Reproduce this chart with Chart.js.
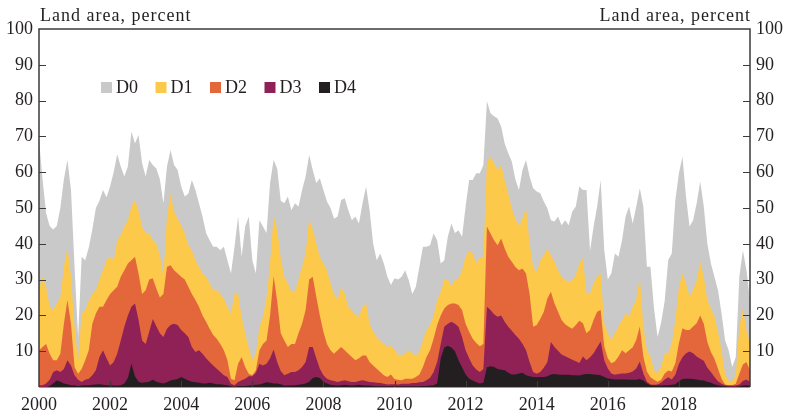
<!DOCTYPE html>
<html>
<head>
<meta charset="utf-8">
<script src="https://cdn.jsdelivr.net/npm/chart.js@4.4.1/dist/chart.umd.min.js"></script>
<style>
  html, body { margin: 0; padding: 0; background: #fff; }
  #wrap { width: 788px; height: 417px; }
</style>
</head>
<body>
<div id="wrap"><canvas id="grafico" width="788" height="417"></canvas></div>
<script>
// percent of land area in each category or worse, sampled every 0.1 year from 2000 to 2020
var d0 = [69, 58, 48.5, 45, 44, 45, 50, 58, 63.4, 55, 33.6, 14, 36.4, 35.4, 39, 44, 50, 52, 55, 53, 56, 60, 65, 61.6, 58.8, 61.6, 71.4, 68, 70.4, 62.5, 58.8, 63.4, 62, 61, 58,
  51.3, 61.6, 66.2, 62, 60.6, 56, 53.2, 54, 57.8, 55, 51.3, 47.6, 43, 41, 39.2, 39.2, 38.2, 39.2, 35.4, 31.7, 39.2, 47.6, 36.4, 44.8, 47.6, 35.4, 31.7, 46.6, 44.8, 43, 57, 63.4, 61, 52,
  51.3, 53.2, 49.4, 51.3, 50.4, 55, 58.8, 64.8, 60.6, 57, 58.3, 55, 51.8, 50, 47, 47.6, 52.2, 52.7, 49.4, 46.6, 47.6, 45.7, 51.3, 56, 49.4, 40, 35.4, 37.3, 34.5, 30.8, 28.5, 30.4, 30,
  30.8, 32.6, 29.9, 26, 28, 33.6, 39.2, 39.2, 39.6, 42.9, 41, 34.5, 35.4, 42, 45.7, 43, 43.8, 42, 50.4, 57.8, 57.8, 59.7, 59.7, 62, 79.8, 76.5, 75.6, 75, 72.8, 68, 65.3, 63, 58, 55,
  60.6, 63.4, 58.8, 55.5, 54.6, 54.1, 51.8, 49.9, 46.6, 46.2, 47.6, 45.2, 46.6, 45.2, 49, 50.4, 56,
  55, 55, 38, 44.8, 50.4, 57.8, 38.3, 30, 31.8, 37.3, 36.4, 41, 47.6, 50.4, 45.7, 50.4, 55.5, 50.4, 33.6, 33.6, 22, 14, 18, 24, 35.5, 37.3, 52.2, 59.7, 64.3, 53.2, 44.8, 46.6, 51.3,
  57.4, 50.4, 40.1, 34.5, 30.8, 27, 20.5, 13, 10.3, 5.6, 8.4, 30.8, 38.2, 32.6, 24.3];

var d1 = [27, 31, 28, 22.4, 21.5, 23.3, 25, 33.6, 39, 30.8, 16.8, 7.5, 20.5, 21.5, 24, 26, 27, 30, 32.6, 35.4, 36.4, 35.4, 41, 42.4, 44.8, 46.6, 50.4, 52.2, 49.4, 44.8, 43, 43, 41, 40, 37,
  30.8, 47.6, 54, 49, 47, 45.2, 43, 39.6, 38.2, 35.4, 33.6, 31.7, 30.8, 29, 27, 27, 26, 24.7, 22.4, 20.5, 26, 26, 19.6, 15, 11.2, 7.5, 9.3, 16.8, 19.6, 25, 34.5, 48, 44, 36,
  30.8, 29, 26.6, 26.6, 30, 33.6, 37.3, 47, 44, 40, 36.4, 34.5, 32.6, 29, 26, 24.3, 28, 26, 22.4, 21.5, 20, 19.6, 22.4, 23.3, 17.7, 15.4, 14, 13, 12, 11.2, 11.5, 10.5, 9,
  8.9, 9.3, 10.3, 9.3, 8.9, 9.8, 13, 15.9, 17.3, 20, 24.3, 26.6, 30, 30, 28, 30, 30.3, 32.6, 36.4, 38.2, 37.3, 34.5, 36.4, 36, 63, 64.4, 62.5, 60.6, 62, 57.8, 54, 50, 47, 45,
  47.1, 49.9, 40.1, 33.6, 32.2, 35.4, 36.8, 38.7, 36.8, 35, 32.6, 30.8, 29.9, 29.4, 29.9, 31.3, 34.5,
  36, 26.2, 26.2, 29, 30.8, 31.8, 17.8, 15, 13.1, 15, 16.9, 18.7, 20.6, 19.6, 22.4, 24.3, 30.8, 16.9, 10.3, 8.5, 4.7, 3.8, 5.7, 9.4, 9.4, 12.2, 18.7, 28, 31.8, 29, 25.2, 27.1, 29.9,
  35, 30.8, 24.3, 21.9, 19.6, 15.4, 10.3, 3.7, 1.6, 1.7, 3.3, 16.8, 21.9, 15.9, 12.1];

var d2 = [10.3, 11.2, 12, 9.3, 7.5, 7.5, 9.3, 17.7, 24.3, 17.7, 5.6, 3.7, 5, 7.5, 10.3, 17.7, 20.5, 22.4, 22.4, 24.3, 26, 27, 28, 30.8, 32.6, 34.5, 35.4, 36.4, 31.7, 26, 27, 30, 30.4, 27.5, 25,
  26, 33.6, 34, 32.6, 31.7, 30.8, 30, 28, 26, 24.3, 22.4, 20, 18.2, 16.3, 14.5, 13.5, 12, 10.3, 7.5, 2.3, 1.9, 6.5, 8.4, 5.6, 3.7, 3.3, 4.7, 10.3, 12, 13, 20, 31, 24, 15,
  13, 11.2, 12, 12, 15, 17.7, 21.5, 30, 30.8, 25.2, 20, 15.4, 12, 10.3, 9.3, 10.3, 11.2, 10.3, 9.3, 8.4, 7.5, 8, 8.8, 8.8, 7, 6, 5.1, 4.2, 3.3, 2.8, 3.5, 2.2, 2,
  1.9, 2.3, 2.3, 2.3, 2.8, 3.5, 5.6, 8.4, 10.3, 13.5, 17.3, 20, 21.9, 22.9, 23.3, 23.3, 22.9, 21.5, 17.7, 15.4, 13.5, 12.3, 11.4, 12, 44.8, 42.9, 41, 39.6, 41.5, 38.7, 36.4, 35, 33.5, 32.6,
  33.1, 31.7, 26, 16.8, 17.3, 19, 21, 24.7, 26.6, 23.3, 21, 18.7, 17.5, 16.8, 16.3, 17.3, 18.5,
  17.8, 15, 15.9, 18.7, 21, 21.5, 11.3, 8, 6.6, 7.1, 8.5, 10.3, 9.4, 10.3, 11.1, 13.1, 16.9, 8.5, 4.3, 2.7, 2, 1.5, 2, 3.8, 4.6, 4.3, 6.6, 12.2, 16.4, 15.9, 15.9, 16.9, 17.8,
  20, 17.7, 12.6, 9.8, 7.9, 5.1, 2.3, 0.7, 0.5, 0.5, 0.9, 3.7, 6.3, 7, 4.7];

var d3 = [0.5, 0.5, 1, 2, 4.2, 4.7, 4.2, 5, 7.5, 6, 3.3, 2, 1.4, 2, 2.3, 3.3, 4.7, 8.4, 10.3, 8, 6, 7, 9.3, 13, 16.8, 20, 22.4, 23.3, 18.7, 13, 12, 15.4, 19, 17, 15,
  14, 16.3, 17.3, 17.7, 17.3, 15.9, 15, 14, 11.2, 9.8, 10.3, 9.3, 8, 7, 6, 5.1, 4.2, 3.3, 2.8, 0.9, 0.5, 1.4, 1.9, 2.3, 3, 3, 4, 6.5, 6, 6.5, 8, 10.5, 7, 4.5,
  3.3, 3.7, 4.2, 4.2, 4.7, 5.6, 7, 11.2, 11.2, 8, 5.1, 3.3, 2.3, 1.9, 1.7, 1.4, 1.7, 1.9, 1.6, 1.4, 1.4, 1.7, 1.9, 1.7, 1.4, 1.3, 1.2, 1.1, 0.9, 0.7, 0.8, 0.8, 0.7,
  0.9, 0.9, 0.9, 1.1, 1.1, 1.3, 1.4, 1.9, 2.6, 4.2, 7, 12, 16.8, 17.7, 18.2, 17.7, 16.8, 14, 10.3, 8, 6, 4.9, 4.2, 5, 22.4, 21.5, 20.3, 19.6, 20, 18.2, 16.8, 15.7, 14.5, 13.5,
  12.1, 10.3, 7, 4.2, 3.7, 4.2, 5.4, 7, 12.6, 11.2, 10.1, 9.1, 8.6, 8.1, 7.6, 7.2, 6.7,
  8.5, 7.5, 8.3, 9.4, 11.1, 12.7, 7.5, 5.2, 3.8, 3.4, 3.6, 3.8, 3.8, 4, 4.3, 5.2, 7.1, 3.8, 1.5, 0.7, 0.6, 0.7, 1.2, 2.1, 2.7, 2.1, 3.4, 6.4, 8.3, 9.4, 9.9, 9.4, 8.5,
  7.9, 7.3, 5.4, 4.2, 2.8, 1.6, 0.9, 0.5, 0.4, 0.4, 0.4, 0.7, 1.7, 2.1, 1.4];

var d4 = [0, 0, 0, 0.3, 1, 1.8, 1.5, 1, 0.8, 0.5, 0.5, 0.3, 0.4, 0.5, 0.5, 0.6, 0.7, 0.8, 0.6, 0.5, 0.5, 0.4, 0.4, 0.5, 1, 2.5, 6.5, 3, 1.5, 1.2, 1.3, 1.5, 2, 1.5, 1.2,
  1, 1.3, 1.8, 2, 2.2, 2.8, 2.3, 1.8, 1.5, 1.3, 1.2, 1, 1, 1.2, 1, 0.8, 0.8, 0.6, 0.5, 0.2, 0.1, 0.3, 0.3, 0.3, 0.4, 0.5, 0.6, 0.7, 1, 1.3, 1.2, 1, 1, 0.8,
  0.4, 0.4, 0.5, 0.5, 0.6, 0.8, 1, 1.5, 2.5, 2.8, 2.5, 1.5, 1, 0.6, 0.5, 0.4, 0.5, 0.6, 0.5, 0.4, 0.5, 0.6, 0.5, 0.4, 0.4, 0.3, 0.2, 0.2, 0.2, 0.2, 0.2, 0.2, 0.2,
  0.2, 0.2, 0.2, 0.2, 0.2, 0.2, 0.3, 0.3, 0.4, 0.5, 1, 8, 11, 11.5, 11, 10, 7.5, 5.5, 3.5, 2.3, 1.8, 1.3, 1, 1.2, 5.5, 5.8, 5.6, 5, 4.8, 4.7, 4, 3.5, 3.5, 3.8,
  4, 3.3, 3, 2.8, 2.7, 2.8, 2.8, 3, 3.5, 3.6, 3.5, 3.4, 3.4, 3.4, 3.3, 3.3, 3.2,
  3.5, 3.6, 3.6, 3.5, 3.4, 3.3, 2.8, 2.4, 2.2, 2.1, 2.1, 2.1, 2.1, 2, 2, 2, 2.2, 1.8, 1, 0.5, 0.4, 0.4, 0.4, 0.5, 0.5, 0.6, 0.8, 1.6, 2.2, 2.3, 2.3, 2.2, 2.1,
  1.9, 1.8, 1.5, 1.2, 0.8, 0.5, 0.3, 0.2, 0.1, 0.1, 0.1, 0.2, 0.4, 0.5, 0.4];

var categorias = ["D0", "D1", "D2", "D3", "D4"];
var cores = ["#c9c9c9", "#fdc94b", "#e4673b", "#8f2157", "#231f20"];
var anosTicks = [2000, 2002, 2004, 2006, 2008, 2010, 2012, 2014, 2016, 2018];
var tituloEixo = "Land area, percent";

var anos = [];
for (var i = 0; i < d0.length; i++) {
    anos.push(2000 + i / 10);
}

var fonte = "'Liberation Serif', 'Times New Roman', serif";
var corTexto = "#231f20";

function montarSerie(valores) {
    var pontos = [];
    for (var i = 0; i < valores.length; i++) {
        pontos.push({ x: anos[i], y: valores[i] });
    }
    return pontos;
}

var series = [d0, d1, d2, d3, d4];
var datasets = [];
for (var k = 0; k < series.length; k++) {
    datasets.push({
        label: categorias[k],
        data: montarSerie(series[k]),
        backgroundColor: cores[k],
        borderWidth: 0,
        pointRadius: 0,
        fill: "origin",
        tension: 0,
        order: series.length - k // D0 ao fundo
    });
}

// moldura, marcas dos eixos, titulos e legenda
var extras = {
    id: "extras",
    afterDraw: function (chart) {
        var ctx = chart.ctx;
        var area = chart.chartArea;
        var x = chart.scales.x;
        var y = chart.scales.y;
        ctx.save();

        ctx.strokeStyle = "#3b3b3b";
        ctx.lineWidth = 1.2;
        for (var v = 10; v <= 90; v += 10) {
            var py = Math.round(y.getPixelForValue(v)) + 0.5;
            ctx.beginPath();
            ctx.moveTo(area.left, py);
            ctx.lineTo(area.left + 7, py);
            ctx.moveTo(area.right, py);
            ctx.lineTo(area.right - 7, py);
            ctx.stroke();
        }
        for (var t = 1; t < anosTicks.length; t++) {
            var px = Math.round(x.getPixelForValue(anosTicks[t])) + 0.5;
            ctx.beginPath();
            ctx.moveTo(px, area.bottom);
            ctx.lineTo(px, area.bottom - 6);
            ctx.stroke();
        }

        ctx.lineWidth = 1.5;
        ctx.beginPath();
        ctx.moveTo(area.left, area.bottom);
        ctx.lineTo(area.left, area.top);
        ctx.lineTo(area.right, area.top);
        ctx.lineTo(area.right, area.bottom);
        ctx.stroke();
        ctx.strokeStyle = "#9a9a9a";
        ctx.lineWidth = 1;
        ctx.beginPath();
        ctx.moveTo(area.left, area.bottom + 0.5);
        ctx.lineTo(area.right, area.bottom + 0.5);
        ctx.stroke();

        ctx.fillStyle = corTexto;
        ctx.font = "18px " + fonte;
        ctx.letterSpacing = "1px";
        ctx.textBaseline = "alphabetic";
        ctx.textAlign = "left";
        ctx.fillText(tituloEixo, area.left + 1, 21);
        ctx.textAlign = "right";
        ctx.fillText(tituloEixo, area.right + 1, 21);
        ctx.letterSpacing = "0px";

        ctx.font = "18px " + fonte;
        ctx.textAlign = "left";
        ctx.textBaseline = "middle";
        for (var j = 0; j < categorias.length; j++) {
            var lx = 101 + j * 54.5;
            ctx.fillStyle = cores[j];
            ctx.fillRect(lx, 82, 11, 11);
            ctx.fillStyle = corTexto;
            ctx.fillText(categorias[j], lx + 15, 88.5);
        }
        ctx.restore();
    }
};

function rotuloY(valor) {
    return valor === 0 ? "" : String(valor);
}

new Chart(document.getElementById("grafico").getContext("2d"), {
    type: "line",
    data: { datasets: datasets },
    plugins: [extras],
    options: {
        responsive: false,
        devicePixelRatio: 1,
        animation: false,
        layout: { padding: { top: 29, left: 0, right: 0, bottom: 0 } },
        plugins: { legend: { display: false }, tooltip: { enabled: false } },
        scales: {
            x: {
                type: "linear",
                min: 2000,
                max: 2020,
                grid: { display: false, drawTicks: false },
                border: { display: false },
                afterFit: function (s) { s.height = 30; },
                afterBuildTicks: function (s) {
                    s.ticks = anosTicks.map(function (a) { return { value: a }; });
                },
                ticks: {
                    autoSkip: false,
                    maxRotation: 0,
                    padding: 7,
                    color: corTexto,
                    font: { family: fonte, size: 18 },
                    callback: function (v) { return String(v); }
                }
            },
            y: {
                position: "left",
                min: 0,
                max: 100,
                grid: { display: false, drawTicks: false },
                border: { display: false },
                afterFit: function (s) { s.width = 39; },
                ticks: {
                    stepSize: 10,
                    padding: 6,
                    color: corTexto,
                    font: { family: fonte, size: 18 },
                    callback: rotuloY
                }
            },
            y2: {
                position: "right",
                min: 0,
                max: 100,
                grid: { display: false, drawTicks: false },
                border: { display: false },
                afterFit: function (s) { s.width = 38; },
                ticks: {
                    stepSize: 10,
                    padding: 6,
                    color: corTexto,
                    font: { family: fonte, size: 18 },
                    callback: rotuloY
                }
            }
        }
    }
});
</script>
</body>
</html>
